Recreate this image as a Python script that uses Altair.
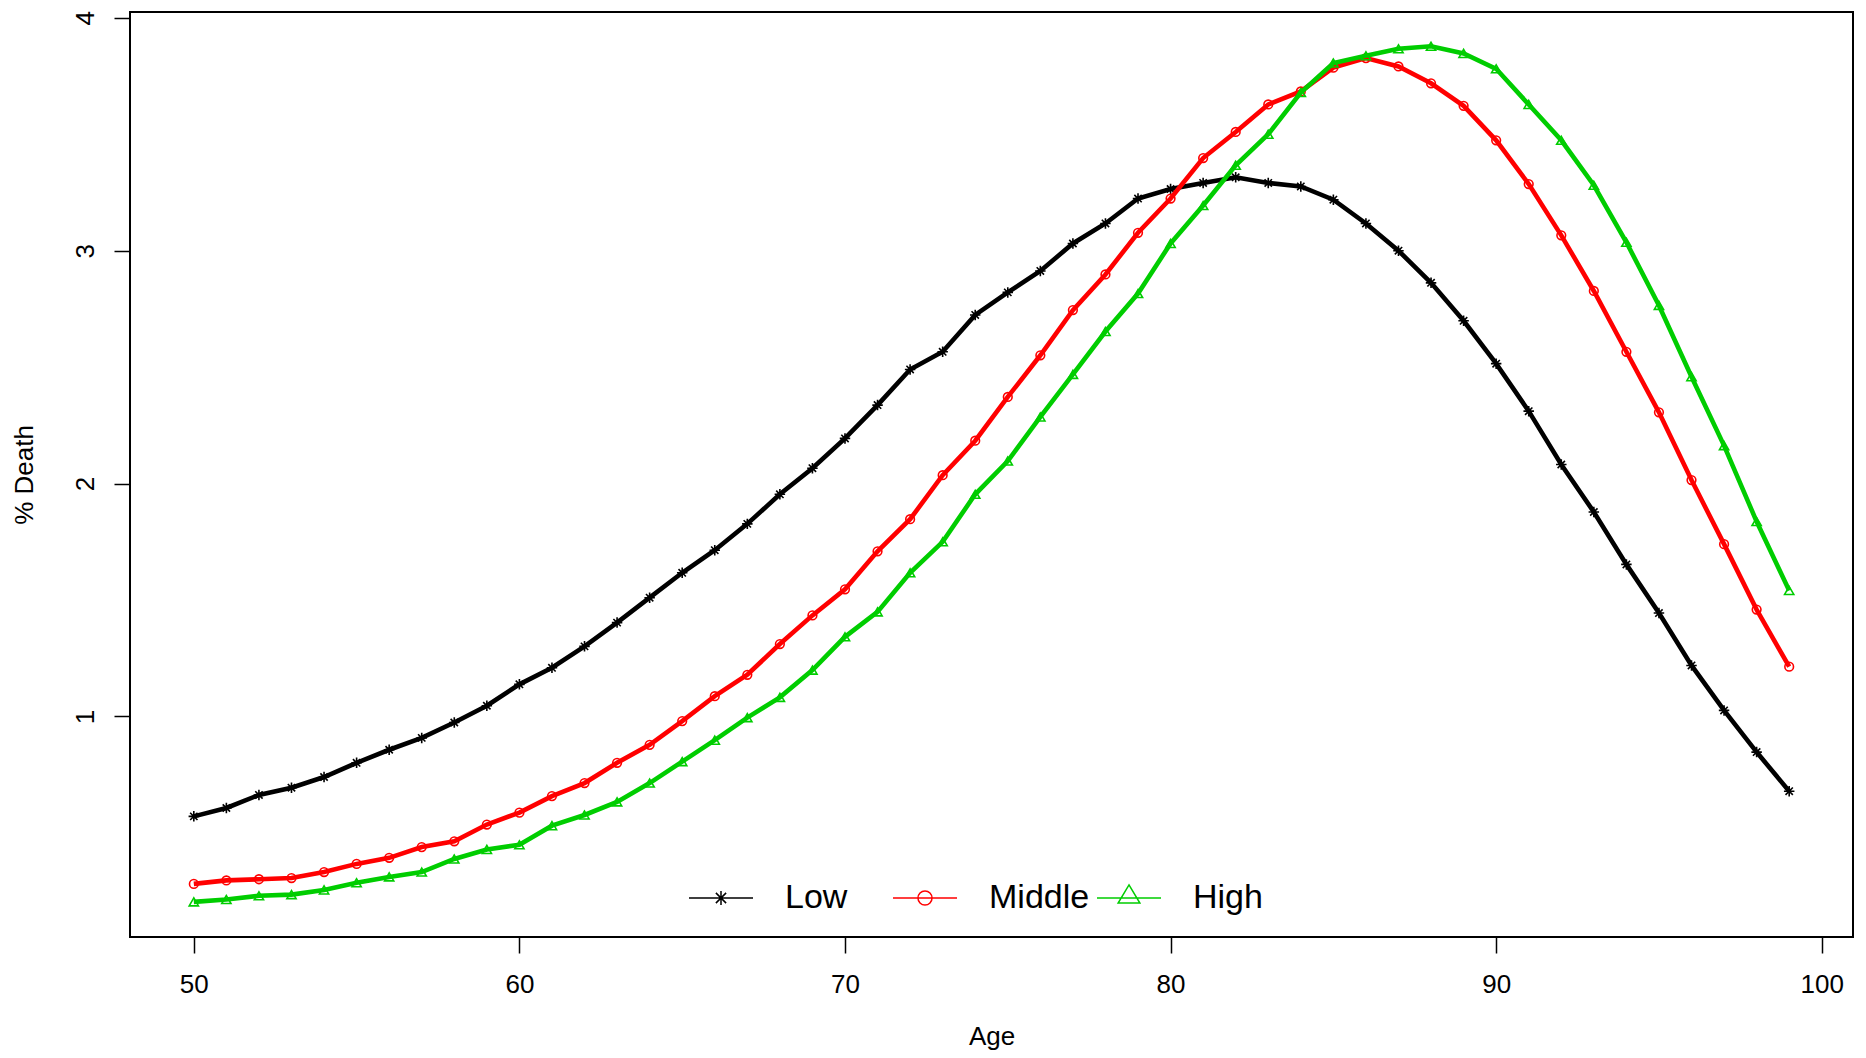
import altair as alt
import pandas as pd

ages = list(range(50, 100))

low = [0.571, 0.607, 0.663, 0.694, 0.740, 0.801, 0.857, 0.908, 0.974, 1.046,
       1.138, 1.209, 1.301, 1.403, 1.510, 1.617, 1.714, 1.827, 1.954, 2.066,
       2.194, 2.337, 2.490, 2.566, 2.724, 2.821, 2.913, 3.031, 3.117, 3.224,
       3.265, 3.291, 3.315, 3.291, 3.276, 3.219, 3.117, 3.000, 2.862, 2.699,
       2.515, 2.311, 2.082, 1.878, 1.653, 1.444, 1.219, 1.026, 0.847, 0.679]

middle = [0.281, 0.296, 0.301, 0.306, 0.332, 0.367, 0.393, 0.439, 0.464, 0.536,
          0.587, 0.658, 0.714, 0.801, 0.878, 0.980, 1.087, 1.179, 1.311, 1.434,
          1.546, 1.709, 1.847, 2.036, 2.184, 2.372, 2.551, 2.745, 2.898, 3.077,
          3.224, 3.398, 3.510, 3.628, 3.684, 3.786, 3.827, 3.791, 3.719, 3.622,
          3.474, 3.286, 3.066, 2.827, 2.566, 2.306, 2.015, 1.740, 1.459, 1.214]

high = [0.204, 0.214, 0.230, 0.235, 0.255, 0.286, 0.311, 0.332, 0.388, 0.429,
        0.449, 0.531, 0.577, 0.633, 0.714, 0.806, 0.898, 0.995, 1.082, 1.199,
        1.342, 1.449, 1.617, 1.750, 1.954, 2.097, 2.286, 2.469, 2.653, 2.816,
        3.031, 3.194, 3.367, 3.500, 3.679, 3.806, 3.837, 3.867, 3.878, 3.847,
        3.781, 3.628, 3.474, 3.281, 3.036, 2.765, 2.459, 2.163, 1.837, 1.541]

groups = ["Low", "Middle", "High"]
colors = ["#000000", "#FF0000", "#00CD00"]
x_ticks = [50, 60, 70, 80, 90, 100]
y_ticks = [1, 2, 3, 4]

rows = []
for g, vals in zip(groups, [low, middle, high]):
    for a, v in zip(ages, vals):
        rows.append({"Age": a, "Death": v, "Group": g})
df = pd.DataFrame(rows)

STAR = "M-1,0L1,0M0,-1L0,1M-0.7,-0.7L0.7,0.7M-0.7,0.7L0.7,-0.7"
point_shapes = [STAR, "circle", "triangle-up"]
point_sizes = [110, 75, 85]

LEG_STAR = ("M-1,0L1,0M-0.22,0L0.22,0M0,-0.22L0,0.22"
            "M-0.16,-0.16L0.16,0.16M-0.16,0.16L0.16,-0.16")
LEG_CIRC = "M-1,0L1,0M0.22,0A0.22,0.22 0 1,1 -0.22,0A0.22,0.22 0 1,1 0.22,0"
LEG_TRI = "M-1,0L1,0M0,-0.41L0.34,0.16L-0.34,0.16Z"
legend_shapes = [LEG_STAR, LEG_CIRC, LEG_TRI]

x_enc = alt.X("Age:Q",
              scale=alt.Scale(domain=[48.04, 100.96], nice=False, zero=False),
              axis=alt.Axis(values=x_ticks, title="Age", titleY=107,
                            titleBaseline="alphabetic", labelBaseline="top",
                            labelPadding=18))
y_enc = alt.Y("Death:Q",
              scale=alt.Scale(domain=[0.053, 4.025], nice=False, zero=False),
              axis=alt.Axis(values=y_ticks, title="% Death", titleX=-98,
                            titleAngle=270, titleBaseline="alphabetic",
                            labelAngle=270, labelAlign="center",
                            labelBaseline="alphabetic", labelPadding=21))
legend = alt.Legend(
    title=None, orient="none", legendX=558, legendY=853,
    direction="horizontal", columns=3, gridAlign="all",
    columnPadding=4, padding=0, symbolSize=4096, labelOffset=31,
    labelFontSize=34, labelFont="Liberation Sans", labelColor="black",
    labelBaseline="middle", labelLimit=400,
    symbolStrokeWidth=1.5, symbolFillColor="transparent", symbolOpacity=1,
)
color_enc = alt.Color("Group:N", scale=alt.Scale(domain=groups, range=colors),
                      sort=groups, legend=legend)
shape_enc = alt.Shape("Group:N", scale=alt.Scale(domain=groups, range=legend_shapes),
                      sort=groups, legend=legend)

base = alt.Chart(df)
layers = []
for g, shp, sz in zip(groups, point_shapes, point_sizes):
    sub = base.transform_filter(alt.datum.Group == g)
    layers.append(sub.mark_line(strokeWidth=4.6).encode(x=x_enc, y=y_enc, color=color_enc))
    layers.append(sub.mark_point(shape=shp, filled=False, size=sz, strokeWidth=1.6,
                                 opacity=1).encode(x=x_enc, y=y_enc, color=color_enc))

# legend-only layer (draws nothing; supplies per-entry legend symbols)
legend_layer = base.transform_filter("false").mark_point(filled=False).encode(
    x=x_enc, y=y_enc, color=color_enc, shape=shape_enc)
layers.append(legend_layer)

chart = alt.layer(*layers).properties(
    width=1723, height=925,
    autosize=alt.AutoSizeParams(type="none"),
    padding={"left": 122, "top": 4, "right": 5, "bottom": 113},
).configure_view(
    stroke="black", strokeWidth=2
).configure_axis(
    domain=False, grid=False, ticks=True, tickSize=16, tickWidth=1.5,
    tickColor="black", labelFont="Liberation Sans", labelFontSize=26,
    labelColor="black", titleFont="Liberation Sans", titleFontSize=26,
    titleColor="black", titleFontWeight="normal",
)

chart.save("out.html", embed_options={"renderer": "svg", "actions": False})
